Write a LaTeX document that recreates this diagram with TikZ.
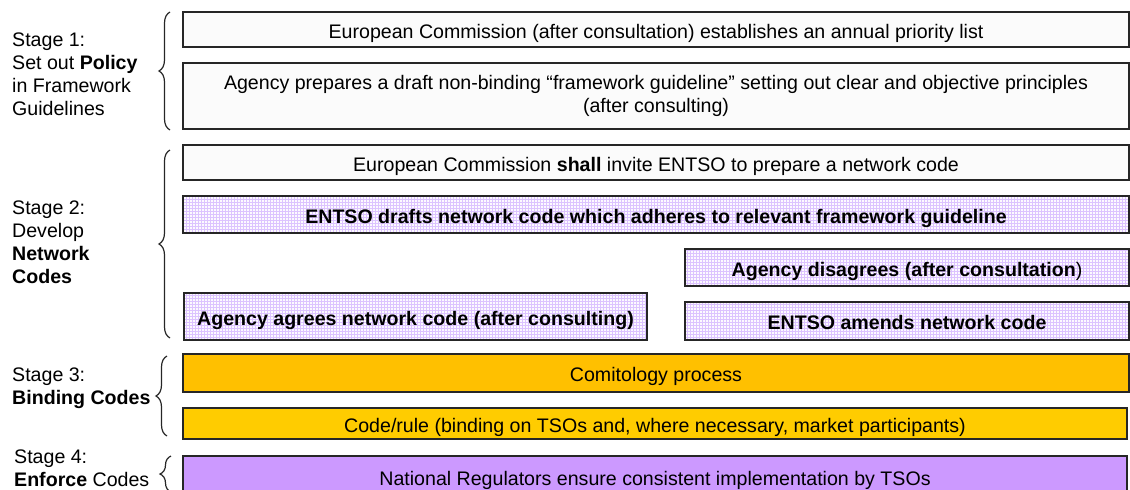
\documentclass[tikz,border=0pt]{standalone}
\usepackage{fontspec}
\setmainfont{Liberation Sans}
\usetikzlibrary{patterns,decorations.pathreplacing}

\definecolor{gridlilac}{RGB}{220,195,255}
\definecolor{paleback}{RGB}{252,249,255}
\definecolor{comitorange}{RGB}{255,192,0}
\definecolor{codeyellow}{RGB}{255,204,0}
\definecolor{enforcelilac}{RGB}{204,153,255}

\tikzset{
  box/.style={draw=black!85,line width=1.3pt,inner sep=0pt,align=center,
    font=\fontsize{19.6}{23}\selectfont},
  oneline/.style={text height=17pt,text depth=0pt},
  plainbox/.style={box,fill=black!1.5},
  gridbox/.style={box,oneline,preaction={fill=paleback},pattern=grid,pattern color=gridlilac},
  stagelabel/.style={anchor=west,align=left,inner sep=0pt,
    font=\fontsize{19.6}{23}\selectfont},
  stagebrace/.style={draw=black!85,line width=1.2pt,decorate,
    decoration={brace,amplitude=11pt}}
}

\begin{document}
\begin{tikzpicture}[x=1pt,y=-1pt]

      \useasboundingbox (0,0) rectangle (1130,490);

      % stage 1
      \begin{scope}[every node/.style={plainbox,minimum width=946pt}]
        \node[oneline,minimum height=35pt] (priority)  at (656,29.5) {European Commission (after consultation) establishes an annual priority list};
        \node[minimum height=66pt] (guideline) at (656,96)   {Agency prepares a draft non-binding “framework guideline” setting out clear and objective principles\\(after consulting)};
        \node[oneline,minimum height=35pt] (invite)    at (656,162.5) {European Commission \textbf{shall} invite ENTSO to prepare a network code};
      \end{scope}

      % stage 2
      \begin{scope}[every node/.style={gridbox,font=\fontsize{19.6}{23}\selectfont\bfseries}]
        \node[minimum width=946pt,minimum height=37pt] (drafts)   at (656,214.5) {ENTSO drafts network code which adheres to relevant framework guideline};
        \node[minimum width=444pt,minimum height=37pt] (disagree) at (907,267.5) {Agency disagrees (after consultation\textmd{)}};
        \node[minimum width=463pt,minimum height=47pt] (agree)    at (415.5,316.5) {Agency agrees network code (after consulting)};
        \node[minimum width=444pt,minimum height=38pt] (amend)    at (907,321)   {ENTSO amends network code};
      \end{scope}

      % stages 3 and 4
      \node[box,oneline,fill=comitorange,minimum width=946pt,minimum height=38pt] (comitology) at (656,373) {Comitology process};
      \node[box,oneline,fill=codeyellow,minimum width=944pt,minimum height=31pt] (coderule) at (655,423.5) {Code/rule (binding on TSOs and, where necessary, market participants)};
      \node[box,oneline,fill=enforcelilac,minimum width=944pt,minimum height=42pt] (enforce) at (655,477) {National Regulators ensure consistent implementation by TSOs};

      % labels
      \node[stagelabel] (s1) at (12,74)  {Stage 1:\\Set out \textbf{Policy}\\in Framework\\Guidelines};
      \node[stagelabel] (s2) at (12,242) {Stage 2:\\Develop\\\textbf{Network}\\\textbf{Codes}};
      \node[stagelabel] (s3) at (12,388) {Stage 3:\\\textbf{Binding Codes}};
      \node[stagelabel] (s4) at (14,468) {Stage 4:\\\textbf{Enforce} Codes};

      % braces
      \coordinate (b1top) at (170,12);  \coordinate (b1bot) at (170,130);
      \coordinate (b2top) at (170,150); \coordinate (b2bot) at (170,338);
      \coordinate (b3top) at (167,356); \coordinate (b3bot) at (167,436);
      \coordinate (b4top) at (171,456); \coordinate (b4bot) at (171,492);
      \draw[stagebrace] (b1bot) -- (b1top);
      \draw[stagebrace] (b2bot) -- (b2top);
      \draw[stagebrace] (b3bot) -- (b3top);
      \draw[stagebrace] (b4bot) -- (b4top);

    \end{tikzpicture}
\end{document}
